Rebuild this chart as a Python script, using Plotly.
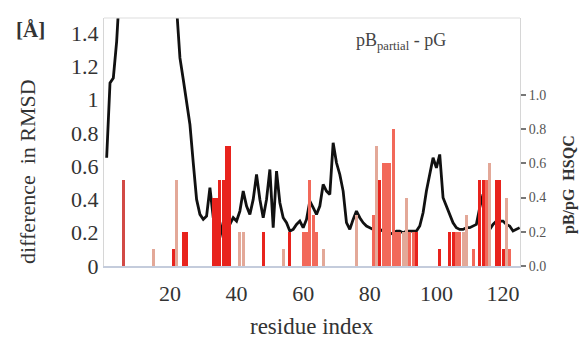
import plotly.graph_objects as go

# ---- data ----
residues = list(range(1, 126))
rmsd_diff = [
    0.65, 1.10, 1.13, 1.35, 1.70, 2.00, 2.30, 2.50, 2.60, 2.70,
    2.80, 2.75, 2.70, 2.60, 2.55, 2.50, 2.40, 2.30, 2.20, 2.00,
    1.85, 1.55, 1.25, 1.12, 0.98, 0.85, 0.62, 0.40, 0.31, 0.28,
    0.30, 0.47, 0.29, 0.27, 0.26, 0.17, 0.22, 0.25, 0.29, 0.27,
    0.33, 0.45, 0.36, 0.31, 0.40, 0.55, 0.40, 0.29, 0.40, 0.58,
    0.23, 0.57, 0.38, 0.29, 0.26, 0.21, 0.22, 0.25, 0.27, 0.23,
    0.28, 0.39, 0.35, 0.31, 0.36, 0.49, 0.45, 0.43, 0.74, 0.62,
    0.55, 0.45, 0.26, 0.22, 0.28, 0.33, 0.29, 0.26, 0.24, 0.23,
    0.22, 0.22, 0.22, 0.21, 0.21, 0.19, 0.20, 0.21, 0.21, 0.20,
    0.21, 0.21, 0.21, 0.21, 0.24, 0.32, 0.45, 0.55, 0.65, 0.59,
    0.67, 0.41, 0.36, 0.32, 0.26, 0.23, 0.22, 0.22, 0.23, 0.23,
    0.24, 0.25, 0.35, 0.43, 0.19, 0.22, 0.25, 0.27, 0.27, 0.27,
    0.25, 0.24, 0.21, 0.22, 0.23,
]

dark_res = [6]
dark_val = [0.5]
red_res = [21, 24, 25, 33, 34, 35, 36, 37, 38, 48, 56, 83, 94, 101, 104, 105, 113, 114, 118, 119, 120]
red_val = [0.1, 0.2, 0.2, 0.4, 0.4, 0.5, 0.5, 0.7, 0.7, 0.2, 0.2, 0.5, 0.2, 0.1, 0.2, 0.2, 0.5, 0.5, 0.5, 0.5, 0.1]
salmon_res = [60, 61, 62, 63, 64, 81, 84, 85, 86, 87, 88, 89, 92, 93, 106, 107, 111, 115, 122]
salmon_val = [0.2, 0.2, 0.5, 0.3, 0.2, 0.3, 0.6, 0.6, 0.6, 0.8, 0.2, 0.2, 0.2, 0.2, 0.2, 0.2, 0.1, 0.5, 0.1]
light_res = [15, 22, 41, 42, 54, 66, 76, 82, 90, 91, 108, 109, 116, 121]
light_val = [0.1, 0.5, 0.2, 0.2, 0.1, 0.1, 0.3, 0.7, 0.2, 0.4, 0.2, 0.3, 0.6, 0.4]

x_ticks = [20, 40, 60, 80, 100, 120]
left_ticks = [0, 0.2, 0.4, 0.6, 0.8, 1, 1.2, 1.4]
right_ticks = [0.0, 0.2, 0.4, 0.6, 0.8, 1.0]

SERIF = "Liberation Serif, Times New Roman, serif"

fig = go.Figure()
for rs, vs, col in [(light_res, light_val, "#e3a898"),
                    (salmon_res, salmon_val, "#f2695a"),
                    (red_res, red_val, "#e8231d"),
                    (dark_res, dark_val, "#d24a46")]:
    fig.add_trace(go.Bar(x=rs, y=vs, yaxis="y2", marker=dict(color=col, line=dict(width=0)),
                         width=0.9, showlegend=False))

fig.add_trace(go.Scatter(x=residues, y=rmsd_diff, mode="lines",
                         line=dict(color="#111111", width=2.8), showlegend=False))

W, H = 579, 338
L, R, T, B = 104, 579 - 520, 18, 338 - 266
pw, ph = W - L - R, H - T - B


def px(xpage):
    return (xpage - L) / pw


def py(ypage):
    return (H - B - ypage) / ph


fig.update_layout(
    width=W, height=H,
    margin=dict(l=L, r=R, t=T, b=B, pad=0, autoexpand=False),
    paper_bgcolor="white", plot_bgcolor="white",
    barmode="overlay", bargap=0,
    font=dict(family=SERIF, color="#333333"),
    xaxis=dict(range=[0.2, 125.1], tickvals=x_ticks, showgrid=False, zeroline=False,
               automargin=False,
               showline=True, linecolor="#c4ccdc", linewidth=1.5,
               ticks="", tickfont=dict(size=22, family=SERIF, color="#333"),
               ticklabelstandoff=7),
    yaxis=dict(range=[0, 1.49], tickvals=left_ticks, showgrid=False, zeroline=False,
               automargin=False,
               showline=True, linecolor="#d6d6d6", linewidth=1,
               ticks="", tickfont=dict(size=22, family=SERIF, color="#333"),
               ticklabelstandoff=0),
    yaxis2=dict(range=[0, 1.45], tickvals=right_ticks, tickformat=".1f", overlaying="y", side="right",
                automargin=False,
                showgrid=False, zeroline=False, showline=True, linecolor="#d6d6d6", linewidth=1,
                ticks="outside", ticklen=5, tickcolor="#777", tickwidth=1.5,
                tickfont=dict(size=14, family=SERIF, color="#555"), ticklabelstandoff=0),
    shapes=[dict(type="line", xref="paper", yref="paper", x0=0, x1=1, y0=1, y1=1,
                 line=dict(color="#dddddd", width=1))],
    annotations=[
        dict(text="residue index", xref="paper", yref="paper",
             x=px(312), y=py(326), showarrow=False,
             xanchor="center", yanchor="middle", font=dict(size=23, family=SERIF, color="#333")),
        dict(text="difference  in RMSD", xref="paper", yref="paper",
             x=px(27), y=py(172), textangle=-90, showarrow=False,
             xanchor="center", yanchor="middle", font=dict(size=22, family=SERIF, color="#333")),
        dict(text="<b>[Å]</b>", xref="paper", yref="paper",
             x=px(30), y=py(30), showarrow=False,
             xanchor="center", yanchor="middle", font=dict(size=21, family=SERIF, color="#333")),
        dict(text="pB<sub>partial</sub> - pG", xref="paper", yref="paper",
             x=px(401), y=py(41), showarrow=False,
             xanchor="center", yanchor="middle", font=dict(size=18, family=SERIF, color="#444")),
        dict(text="<b>pB/pG  HSQC</b>", xref="paper", yref="paper",
             x=px(569), y=py(185), textangle=-90, showarrow=False,
             xanchor="center", yanchor="middle", font=dict(size=16, family=SERIF, color="#333")),
    ],
)

fig.write_html("out.html", config={"displayModeBar": False},
               post_script="document.body.style.margin='0';document.body.style.overflow='hidden';")
